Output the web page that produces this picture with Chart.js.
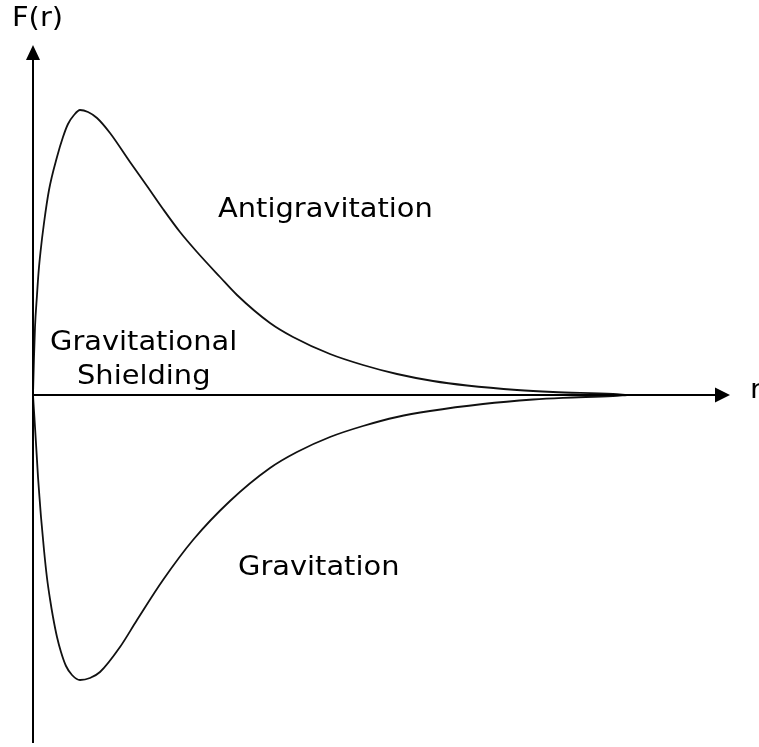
<!DOCTYPE html>
<html>
<head>
<meta charset="utf-8">
<script src="https://cdn.jsdelivr.net/npm/chart.js@4/dist/chart.umd.min.js"></script>
<style>
html,body{margin:0;padding:0;background:#fff;}
#c{display:block;}
</style>
</head>
<body>
<canvas id="c" width="759" height="747"></canvas>
<script>
// Upper branch (antigravitation) r, F
const upperR = [0,1,2,4,5.5,7.5,11,16,24,30,35,41,47,55,64,77,97,114,130,147,164,187,204,237,260,297,330,364,400,434,484,520,580,594];
const upperF = [0,38,68,100,122,143,172,205,238,258,271,280,285,283,277,262,233,209,186,163,143,118,100,72,58,41,30,21,14,9.5,5,3,1,0];
// Lower branch (gravitation) r, F
const lowerR = [0,1,2,3.7,5,7,8,11,14,17,20,24,28,33,39,47,57,67,87,104,130,160,197,237,264,297,330,364,397,450,500,530,580,594];
const lowerF = [0,-16,-32,-60,-82,-109,-122,-155,-183,-204,-222,-242,-257,-271,-280,-285,-283,-277,-252,-225,-185,-145,-106,-73,-57,-42,-31,-22,-16,-9,-4.5,-2.8,-1,0];
// Text labels: text, r, F (anchor = left baseline)
const labelText = ["F(r)","Antigravitation","Gravitational","Shielding","Gravitation","r"];
const labelR = [-21,185,17,44,205,717];
const labelF = [369,178,45,11,-180,-3];

const toPts = (xs, ys) => xs.map((x, i) => ({x: x, y: ys[i]}));

const axesPlugin = {
  id: 'axesArrows',
  afterDatasetsDraw(chart) {
    const ctx = chart.ctx, xs = chart.scales.x, ys = chart.scales.y;
    const x0 = xs.getPixelForValue(0), y0 = ys.getPixelForValue(0);
    const yTop = ys.getPixelForValue(350), yBot = ys.getPixelForValue(-348);
    const xEnd = xs.getPixelForValue(697);
    ctx.save();
    ctx.strokeStyle = '#000';
    ctx.fillStyle = '#000';
    ctx.lineWidth = 2;
    ctx.beginPath(); ctx.moveTo(x0, yTop + 10); ctx.lineTo(x0, yBot); ctx.stroke();
    ctx.beginPath(); ctx.moveTo(x0 - 1, y0); ctx.lineTo(xEnd - 10, y0); ctx.stroke();
    ctx.beginPath(); ctx.moveTo(x0, yTop); ctx.lineTo(x0 - 7, yTop + 15); ctx.lineTo(x0 + 7, yTop + 15); ctx.closePath(); ctx.fill();
    ctx.beginPath(); ctx.moveTo(xEnd, y0); ctx.lineTo(xEnd - 15, y0 - 7.5); ctx.lineTo(xEnd - 15, y0 + 7.5); ctx.closePath(); ctx.fill();
    ctx.font = '27px "DejaVu Sans"';
    ctx.textAlign = 'left';
    ctx.textBaseline = 'alphabetic';
    ctx.fillStyle = '#000';
    labelText.forEach((t, i) => {
      ctx.save();
      ctx.translate(xs.getPixelForValue(labelR[i]), ys.getPixelForValue(labelF[i]));
      ctx.scale(1.07, 1);
      ctx.fillText(t, 0, 0);
      ctx.restore();
    });
    ctx.restore();
  }
};

new Chart(document.getElementById('c'), {
  type: 'line',
  data: {
    datasets: [
      {data: toPts(upperR, upperF), borderColor: '#111', borderWidth: 1.8, pointRadius: 0, cubicInterpolationMode: 'monotone', fill: false},
      {data: toPts(lowerR, lowerF), borderColor: '#111', borderWidth: 1.8, pointRadius: 0, cubicInterpolationMode: 'monotone', fill: false}
    ]
  },
  options: {
    responsive: false,
    animation: false,
    clip: false,
    layout: {padding: {left: 33, top: 45, right: 26, bottom: 2}},
    plugins: {legend: {display: false}, tooltip: {enabled: false}},
    scales: {
      x: {type: 'linear', min: 0, max: 700, display: false},
      y: {type: 'linear', min: -350, max: 350, display: false}
    }
  },
  plugins: [axesPlugin]
});
</script>
</body>
</html>
